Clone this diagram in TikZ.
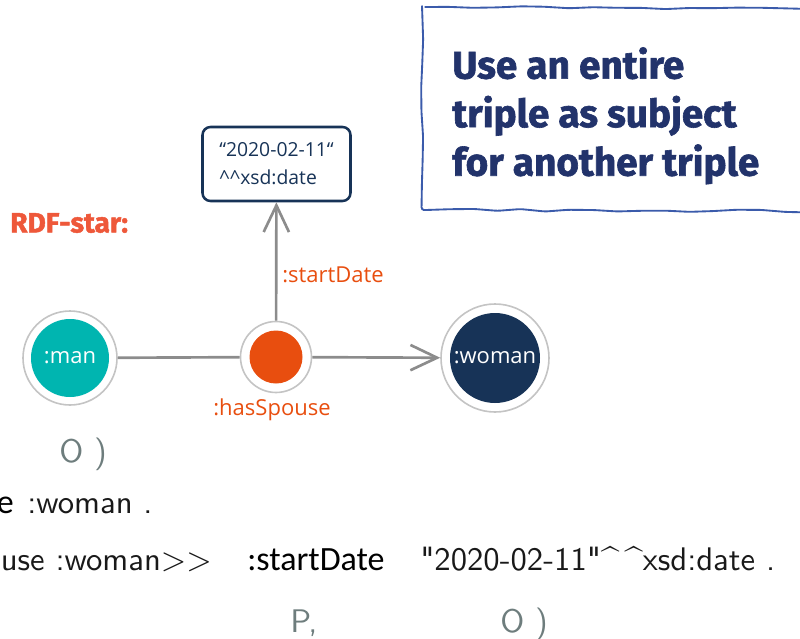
\documentclass[tikz,border=0pt]{standalone}
\usepackage{fontspec}
\usepackage{xcolor}
\usepackage{tikz}
\usetikzlibrary{arrows.meta, positioning, decorations.pathmorphing}
\newfontfamily\labelfont{Open Sans}
\newfontfamily\headfont{Fira Sans}[BoldFeatures={FakeBold=1.6}]
\newfontfamily\calfont{Carlito}
\newfontfamily\codefont{lmsans10-regular}[Extension=.otf, Ligatures=TeXOff]
\definecolor{rteal}{RGB}{0, 181, 176}
\definecolor{rorange}{RGB}{232, 78, 15}
\definecolor{rred}{RGB}{238, 88, 58}
\definecolor{rnavy}{RGB}{23, 51, 87}
\definecolor{rhead}{RGB}{34, 51, 107}
\definecolor{rframe}{RGB}{59, 91, 171}
\definecolor{rline}{RGB}{140, 140, 140}
\definecolor{rring}{RGB}{196, 196, 196}
\definecolor{rcode}{RGB}{25, 25, 25}
\definecolor{rvar}{RGB}{110, 125, 125}

\begin{document}
\begin{tikzpicture}[x=0.75pt, y=-0.75pt,
    gnode/.style n args={3}{circle, draw=rring, line width=1.2pt, fill=white, minimum size=#1, inner sep=0pt, text=white,
        font=\labelfont\fontsize{16.5}{20}\selectfont,
        path picture={\fill[#2] (path picture bounding box.center) circle (#3);}},
    link/.style={draw=rline, line width=2pt},
    arr/.style={-{Straight Barb[length=20pt, width=19pt]}},
    elabel/.style={text=rorange, font=\labelfont\fontsize{16.5}{20}\selectfont, inner sep=0pt},
    datebox/.style={draw=rnavy, line width=1.9pt, rounded corners=6pt, fill=white, minimum width=111pt, minimum height=55.5pt,
        align=left, text=rnavy, font=\labelfont\fontsize{14.5}{21}\selectfont},
    code/.style={font=\codefont\fontsize{24.5}{28}\selectfont, text=rcode, inner sep=0pt},
    pcode/.style={font=\calfont\fontsize{25.5}{28}\selectfont, text=black, inner sep=0pt},
    vcode/.style={code, text=rvar},
]
    \useasboundingbox (0,0) rectangle (800,639);

    % Note box
    \pgfmathsetseed{7}
    \draw[rframe, line width=1.4pt, rounded corners=2pt, decorate,
        decoration={random steps, segment length=18pt, amplitude=0.9pt}]
        (422,7) -- (812,9) -- (812,211) -- (423,210) -- cycle;
    \node[anchor=north west, inner sep=0pt, align=left, text=rhead,
        font=\headfont\bfseries\fontsize{29}{36.4}\selectfont] (note) at (452,47)
        {Use an entire\\triple as subject\\for another triple};

    \node[anchor=west, inner sep=0pt, text=rred, font=\headfont\bfseries\fontsize{21}{26}\selectfont] (rdfstar) at (10,223) {RDF-star:};

    % Graph
    \node[gnode={70.5pt}{rteal}{39}] (man) at (70,358) {:man};
    \node[gnode={53.25pt}{rorange}{26.5}] (spouse) at (276,357) {};
    \node[gnode={81pt}{rnavy}{45}] (woman) at (495,358) {:woman};
    \node[datebox] (date) at (276.5,164) {“2020-02-11“\\\textasciicircum\textasciicircum xsd:date};

    \draw[link] (man) -- (spouse);
    \draw[link, arr] (spouse) -- (woman);
    \draw[link, arr] (spouse) -- (date);

    \node[elabel, anchor=west] (lstart) at (282,275) {:startDate};
    \node[elabel] (lspouse) at (272,410) {:hasSpouse};

    % Turtle lines
    \node[vcode, anchor=base west] (obj1) at (59,462) {O )};
    \node[pcode, anchor=base east] (pred2) at (14,513) {e};
    \node[code, anchor=base west] (obj2) at (27,513) {:woman .};
    \node[code, anchor=base east] (subj3) at (212,570) {ouse :woman>{}>};
    \node[pcode, anchor=base west] (pred3) at (247,570) {:startDate};
    \node[code, anchor=base west] (obj3) at (420,570) {"2020-02-11"\textasciicircum\,\textasciicircum xsd:date .};
    \node[vcode, anchor=base west] (pvar) at (290,632) {P,};
    \node[vcode, anchor=base west] (ovar) at (500,632) {O )};
\end{tikzpicture}
\end{document}
